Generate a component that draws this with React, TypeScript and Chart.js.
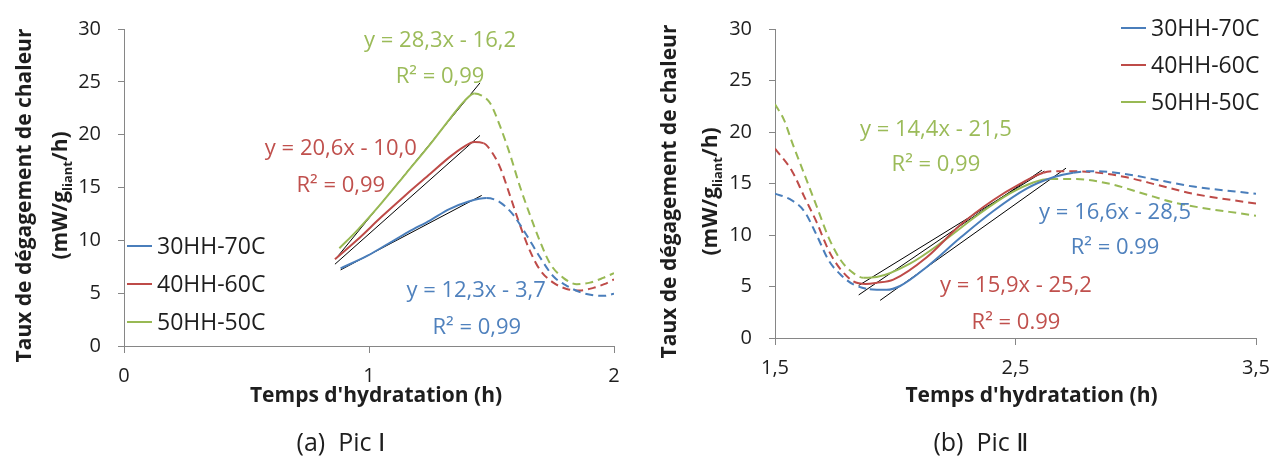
import React, { useEffect, useRef } from "react";
import { Chart, registerables } from "chart.js";

Chart.register(...registerables);

const FONT = "'Open Sans', 'Noto Sans', 'DejaVu Sans', sans-serif";
const TEXT_COLOR = "#1e1e1e";
const AXIS_COLOR = "#868686";

const seriesNames = ["30HH-70C", "40HH-60C", "50HH-50C"];
const seriesColors = ["#4A7EBB", "#BE4B48", "#98B954"];
const labelColors = ["#4F81BD", "#C0504D", "#9BBB59"];

const yTicks = [0, 5, 10, 15, 20, 25, 30];

// ---------- Panel (a) Pic I ----------
const aXTicks = [0, 1, 2];
const aBlueX = [0.884, 0.994, 1.08, 1.161, 1.25, 1.328, 1.41, 1.479, 1.535, 1.589, 1.643, 1.698, 1.752, 1.807, 1.861, 1.916, 1.96, 2.0];
const aBlueY = [7.35, 8.55, 9.7, 10.8, 11.9, 12.95, 13.7, 14.0, 13.6, 12.4, 10.5, 8.4, 6.6, 5.7, 5.1, 4.8, 4.75, 4.95];
const aRedX = [0.861, 0.95, 1.05, 1.15, 1.25, 1.33, 1.39, 1.43, 1.467, 1.5, 1.535, 1.576, 1.616, 1.657, 1.698, 1.752, 1.807, 1.861, 1.916, 1.96, 2.0];
const aRedY = [8.2, 10.0, 12.2, 14.3, 16.3, 17.9, 18.9, 19.3, 19.2, 18.4, 16.9, 14.2, 11.45, 9.0, 7.2, 6.0, 5.4, 5.25, 5.5, 5.85, 6.3];
const aGreenX = [0.879, 0.95, 1.05, 1.15, 1.25, 1.33, 1.39, 1.43, 1.46, 1.494, 1.535, 1.576, 1.616, 1.657, 1.698, 1.739, 1.793, 1.848, 1.902, 1.956, 2.0];
const aGreenY = [9.25, 10.9, 13.5, 16.3, 19.1, 21.5, 23.2, 23.9, 23.7, 23.0, 20.8, 18.1, 15.1, 12.4, 9.9, 7.8, 6.45, 5.85, 6.0, 6.45, 6.9];
const aDashFrom = [1.479, 1.45, 1.44];
const aTrendX = [[0.884, 1.46], [0.861, 1.453], [0.868, 1.453]];
const aTrendY = [[7.2, 14.25], [7.74, 19.93], [8.36, 24.9]];
const aEqText = ["y = 12,3x - 3,7", "R² = 0,99", "y = 20,6x - 10,0", "R² = 0,99", "y = 28,3x - 16,2", "R² = 0,99"];
const aEqX = [1.437, 1.44, 0.885, 0.885, 1.29, 1.29];
const aEqY = [4.64, 1.18, 18.1, 14.6, 28.27, 24.9];
const aEqSeries = [0, 0, 1, 1, 2, 2];

// ---------- Panel (b) Pic II ----------
const bXTicks = [1.5, 2.5, 3.5];
const bBlueX = [1.5, 1.56, 1.622, 1.673, 1.724, 1.775, 1.826, 1.894, 1.964, 2.02, 2.131, 2.269, 2.408, 2.546, 2.657, 2.74, 2.823, 2.962, 3.1, 3.24, 3.5];
const bBlueY = [14.0, 13.5, 12.3, 10.0, 7.5, 6.1, 5.2, 4.74, 4.68, 5.05, 6.9, 9.7, 12.33, 14.5, 15.6, 16.05, 16.2, 15.9, 15.3, 14.7, 14.0];
const bRedX = [1.5, 1.571, 1.622, 1.673, 1.724, 1.775, 1.826, 1.877, 1.92, 1.992, 2.131, 2.269, 2.408, 2.519, 2.616, 2.685, 2.823, 2.962, 3.1, 3.24, 3.5];
const bRedY = [18.4, 16.2, 13.7, 11.25, 8.46, 6.6, 5.5, 5.25, 5.35, 5.67, 7.84, 10.94, 13.4, 14.96, 16.05, 16.2, 16.1, 15.6, 14.8, 14.0, 13.05];
const bGreenX = [1.5, 1.537, 1.571, 1.622, 1.673, 1.724, 1.775, 1.826, 1.869, 1.923, 2.061, 2.2, 2.339, 2.477, 2.574, 2.644, 2.754, 2.893, 3.03, 3.17, 3.5];
const bGreenY = [22.7, 21.2, 19.0, 15.9, 12.8, 9.7, 7.5, 6.3, 5.85, 5.92, 7.22, 9.4, 11.87, 14.03, 15.1, 15.43, 15.43, 14.96, 14.03, 13.1, 11.87];
const bDashBefore = [1.9, 1.84, 1.86];
const bDashAfter = [2.74, 2.616, 2.644];
const bTrendX = [[1.937, 2.71], [1.848, 2.61], [1.848, 2.62]];
const bTrendY = [[3.65, 16.49], [4.18, 16.3], [5.1, 16.2]];
const bEqText = ["y = 16,6x - 28,5", "R² = 0.99", "y = 15,9x - 25,2", "R² = 0.99", "y = 14,4x - 21,5", "R² = 0,99"];
const bEqX = [2.914, 2.914, 2.502, 2.502, 2.169, 2.169];
const bEqY = [11.6, 8.17, 4.44, 0.9, 19.6, 16.26];
const bEqSeries = [0, 0, 1, 1, 2, 2];

type PanelCfg = {
  width: number;
  xMin: number;
  xMax: number;
  xTicks: number[];
  seriesX: number[][];
  seriesY: number[][];
  isDashed: (series: number, x: number) => boolean;
  trendX: number[][];
  trendY: number[][];
  eqText: string[];
  eqX: number[];
  eqY: number[];
  eqSeries: number[];
  yAxisWidth: number;
  xAxisHeight: number;
  padRight: number;
  legendX: number;
  legendY: number;
  legendGap: number;
  yTitleX1: number;
  yTitleX2: number;
  xTitleDx: number;
  caption: string;
  captionX: number;
};

const fmt = (v: number) => String(v).replace(".", ",");

function Panel({ cfg }: { cfg: PanelCfg }) {
  const ref = useRef<HTMLCanvasElement>(null);
  useEffect(() => {
    const canvas = ref.current;
    if (!canvas) return;
    const datasets: any[] = [];
    cfg.seriesX.forEach((xs, i) => {
      datasets.push({
        label: seriesNames[i],
        data: xs.map((x, k) => ({ x, y: cfg.seriesY[i][k] })),
        borderColor: seriesColors[i],
        backgroundColor: seriesColors[i],
        borderWidth: 2,
        pointRadius: 0,
        cubicInterpolationMode: "monotone",
        segment: {
          borderDash: (ctx: any) => {
            const xm = (ctx.p0.parsed.x + ctx.p1.parsed.x) / 2;
            return cfg.isDashed(i, xm) ? [8, 5] : undefined;
          },
        },
      });
    });
    cfg.trendX.forEach((xs, i) => {
      datasets.push({
        label: "trend" + i,
        data: xs.map((x, k) => ({ x, y: cfg.trendY[i][k] })),
        borderColor: "#000000",
        borderWidth: 1,
        pointRadius: 0,
        tension: 0,
      });
    });

    const decor = {
      id: "decor",
      afterDraw(chart: any) {
        const c = chart.ctx as CanvasRenderingContext2D;
        const area = chart.chartArea;
        const xs = chart.scales.x;
        const ys = chart.scales.y;
        c.save();
        // equations
        c.font = `22px ${FONT}`;
        c.textAlign = "center";
        c.textBaseline = "alphabetic";
        cfg.eqText.forEach((t, k) => {
          c.fillStyle = labelColors[cfg.eqSeries[k]];
          c.fillText(t, xs.getPixelForValue(cfg.eqX[k]), ys.getPixelForValue(cfg.eqY[k]));
        });
        // legend
        c.textAlign = "left";
        c.textBaseline = "middle";
        c.font = `23px ${FONT}`;
        seriesNames.forEach((n, i) => {
          const yy = cfg.legendY + i * cfg.legendGap;
          c.strokeStyle = seriesColors[i];
          c.lineWidth = 2;
          c.setLineDash([]);
          c.beginPath();
          c.moveTo(cfg.legendX, yy);
          c.lineTo(cfg.legendX + 25, yy);
          c.stroke();
          c.fillStyle = TEXT_COLOR;
          c.fillText(n, cfg.legendX + 30, yy + 1);
        });
        // x title
        c.fillStyle = TEXT_COLOR;
        c.font = `bold 21px ${FONT}`;
        c.textAlign = "center";
        c.textBaseline = "alphabetic";
        c.fillText("Temps d'hydratation (h)", (area.left + area.right) / 2 + cfg.xTitleDx, 402);
        // caption
        c.font = `25px ${FONT}`;
        c.fillText(cfg.caption, cfg.captionX, 451);
        // y title (rotated)
        const cy = (area.top + area.bottom) / 2 + 8;
        c.save();
        c.translate(cfg.yTitleX1, cy);
        c.rotate(-Math.PI / 2);
        c.font = `bold 21px ${FONT}`;
        c.textAlign = "center";
        c.fillText("Taux de dégagement de chaleur", 0, 0);
        c.restore();
        c.save();
        c.translate(cfg.yTitleX2, cy);
        c.rotate(-Math.PI / 2);
        const f1 = `bold 21px ${FONT}`;
        const f2 = `bold 13px ${FONT}`;
        const parts: [string, string, number][] = [
          ["(mW/g", f1, 0],
          ["liant", f2, 5],
          ["/h)", f1, 0],
        ];
        let total = 0;
        parts.forEach(([t, f]) => {
          c.font = f;
          total += c.measureText(t).width;
        });
        let px = -total / 2;
        c.textAlign = "left";
        parts.forEach(([t, f, dy]) => {
          c.font = f;
          c.fillText(t, px, dy);
          px += c.measureText(t).width;
        });
        c.restore();
        c.restore();
      },
    };

    const chart = new Chart(canvas, {
      type: "line",
      data: { datasets },
      plugins: [decor],
      options: {
        animation: false,
        responsive: false,
        maintainAspectRatio: false,
        layout: { padding: { left: 0, right: cfg.padRight, top: 16, bottom: 0 } },
        plugins: {
          legend: { display: false },
          tooltip: { enabled: false },
          title: { display: false },
        },
        scales: {
          x: {
            type: "linear",
            min: cfg.xMin,
            max: cfg.xMax,
            afterBuildTicks: (scale: any) => {
              scale.ticks = cfg.xTicks.map((v) => ({ value: v }));
            },
            afterFit: (scale: any) => {
              scale.height = cfg.xAxisHeight;
            },
            border: { display: true, color: AXIS_COLOR, width: 1 },
            grid: { drawOnChartArea: false, drawTicks: true, tickLength: 7, color: AXIS_COLOR },
            ticks: {
              autoSkip: false,
              maxRotation: 0,
              padding: 11,
              color: TEXT_COLOR,
              font: { family: FONT, size: 20 },
              callback: (v: any) => fmt(Number(v)),
            },
          },
          y: {
            type: "linear",
            min: 0,
            max: 30,
            afterBuildTicks: (scale: any) => {
              scale.ticks = yTicks.map((v) => ({ value: v }));
            },
            afterFit: (scale: any) => {
              scale.width = cfg.yAxisWidth;
            },
            border: { display: true, color: AXIS_COLOR, width: 1 },
            grid: { drawOnChartArea: false, drawTicks: true, tickLength: 6, color: AXIS_COLOR },
            ticks: {
              padding: 17,
              color: TEXT_COLOR,
              font: { family: FONT, size: 20 },
              callback: (v: any) => fmt(Number(v)),
            },
          },
        },
      } as any,
    });
    return () => chart.destroy();
  }, [cfg]);
  return <canvas ref={ref} width={cfg.width} height={459} style={{ display: "block", width: cfg.width, height: 459 }} />;
}

const panelA: PanelCfg = {
  width: 640,
  xMin: 0,
  xMax: 2,
  xTicks: aXTicks,
  seriesX: [aBlueX, aRedX, aGreenX],
  seriesY: [aBlueY, aRedY, aGreenY],
  isDashed: (s, x) => x >= aDashFrom[s],
  trendX: aTrendX,
  trendY: aTrendY,
  eqText: aEqText,
  eqX: aEqX,
  eqY: aEqY,
  eqSeries: aEqSeries,
  yAxisWidth: 124,
  xAxisHeight: 113,
  padRight: 26,
  legendX: 127,
  legendY: 246,
  legendGap: 38,
  yTitleX1: 31,
  yTitleX2: 67,
  xTitleDx: 7,
  caption: "(a)  Pic Ⅰ",
  captionX: 341,
};

const panelB: PanelCfg = {
  width: 642,
  xMin: 1.5,
  xMax: 3.5,
  xTicks: bXTicks,
  seriesX: [bBlueX, bRedX, bGreenX],
  seriesY: [bBlueY, bRedY, bGreenY],
  isDashed: (s, x) => x < bDashBefore[s] || x > bDashAfter[s],
  trendX: bTrendX,
  trendY: bTrendY,
  eqText: bEqText,
  eqX: bEqX,
  eqY: bEqY,
  eqSeries: bEqSeries,
  yAxisWidth: 135,
  xAxisHeight: 121,
  padRight: 26,
  legendX: 481,
  legendY: 28,
  legendGap: 37,
  yTitleX1: 36,
  yTitleX2: 77,
  xTitleDx: 16,
  caption: "(b)  Pic Ⅱ",
  captionX: 341,
};

export default function App() {
  return (
    <div style={{ position: "absolute", left: 0, top: 0, width: 1282, height: 459, background: "#fff", display: "flex" }}>
      <Panel cfg={panelA} />
      <Panel cfg={panelB} />
    </div>
  );
}
